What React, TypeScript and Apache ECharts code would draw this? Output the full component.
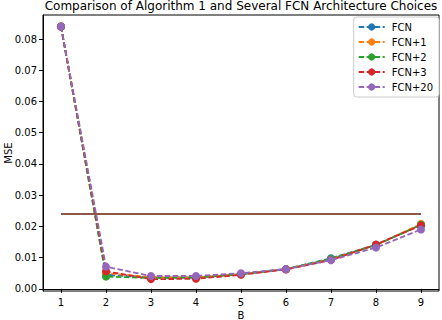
import React, { useEffect, useRef } from "react";
import * as echarts from "echarts";

const B = [1, 2, 3, 4, 5, 6, 7, 8, 9];
const seriesNames = ["FCN", "FCN+1", "FCN+2", "FCN+3", "FCN+20"];
const fcn = [0.084, 0.0045, 0.0036, 0.0036, 0.0047, 0.0063, 0.0098, 0.0141, 0.0205];
const fcn1 = [0.084, 0.005, 0.0038, 0.0037, 0.0047, 0.0063, 0.0095, 0.014, 0.0208];
const fcn2 = [0.084, 0.0039, 0.0035, 0.0036, 0.0047, 0.0063, 0.0096, 0.014, 0.0205];
const fcn3 = [0.084, 0.0056, 0.0031, 0.0032, 0.0045, 0.0062, 0.0092, 0.0142, 0.0203];
const fcn20 = [0.084, 0.0071, 0.0041, 0.0041, 0.005, 0.0063, 0.0092, 0.0132, 0.019];
const algorithm1 = 0.024;
const yTicks = [0, 0.01, 0.02, 0.03, 0.04, 0.05, 0.06, 0.07, 0.08];
const colors = ["#1f77b4", "#ff7f0e", "#2ca02c", "#d62728", "#9467bd", "#8c564b"];

export default function App() {
  const ref = useRef<HTMLDivElement>(null);
  useEffect(() => {
    const chart = echarts.init(ref.current!, undefined, { renderer: "svg" });
    const all = [fcn, fcn1, fcn2, fcn3, fcn20];
    const font = "DejaVu Sans";
    const series: any[] = all.map((vals, i) => ({
      name: seriesNames[i],
      type: "line",
      data: B.map((b, j) => [b, vals[j]]),
      symbol: "circle",
      symbolSize: 8,
      lineStyle: { type: [5.5, 2.5], width: 1.8, color: colors[i] },
      itemStyle: { color: colors[i] },
      z: 2 + i,
    }));
    series.push({
      name: "Algorithm 1",
      type: "line",
      data: [[B[0], algorithm1], [B[B.length - 1], algorithm1]],
      symbol: "none",
      lineStyle: { width: 2, color: colors[5] },
      itemStyle: { color: colors[5] },
      z: 8,
    });
    chart.setOption({
      animation: false,
      textStyle: { fontFamily: font },
      title: {
        text: "Comparison of Algorithm 1 and Several FCN Architecture Choices",
        left: 241,
        textAlign: "center",
        top: 0,
        padding: 0,
        textStyle: { fontFamily: font, fontSize: 12, fontWeight: "normal", color: "#000" },
      },
      grid: {
        left: 43,
        right: 3,
        top: 15,
        bottom: 29,
        outerBoundsMode: "none",
        containLabel: false,
        show: true,
        borderColor: "#000",
        borderWidth: 1,
        backgroundColor: "#fff",
      },
      legend: {
        data: seriesNames,
        orient: "vertical",
        right: 3,
        top: 17,
        padding: [5, 6, 5, 4],
        itemGap: 5,
        itemWidth: 26,
        itemHeight: 9,
        borderColor: "#ccc",
        borderWidth: 1,
        borderRadius: 3,
        backgroundColor: "#fff",
        textStyle: { fontFamily: font, fontSize: 10, color: "#000", padding: [0, 0, 0, 2] },
      },
      xAxis: {
        type: "value",
        min: 0.6,
        max: 9.4,
        name: "B",
        nameLocation: "middle",
        nameGap: 19,
        nameMoveOverlap: false,
        nameTextStyle: { fontFamily: font, fontSize: 10, color: "#000" },
        axisLine: { show: true, lineStyle: { color: "#000" } },
        axisTick: { show: true, inside: false, length: 4, lineStyle: { color: "#000" }, customValues: B },
        axisLabel: { fontFamily: font, fontSize: 10, color: "#000", margin: 6, customValues: B, formatter: (v: number) => String(v) },
        splitLine: { show: false },
      },
      yAxis: {
        type: "value",
        min: -0.0007,
        max: 0.0877,
        name: "MSE",
        nameLocation: "middle",
        nameRotate: 90,
        nameGap: 30,
        nameMoveOverlap: false,
        nameTextStyle: { fontFamily: font, fontSize: 10, color: "#000" },
        axisLine: { show: true, lineStyle: { color: "#000" } },
        axisTick: { show: true, inside: false, length: 4, lineStyle: { color: "#000" }, customValues: yTicks },
        axisLabel: { fontFamily: font, fontSize: 10, color: "#000", margin: 6, customValues: yTicks, formatter: (v: number) => v.toFixed(2) },
        splitLine: { show: false },
      },
      series,
    });
    return () => chart.dispose();
  }, []);
  return <div ref={ref} style={{ position: "absolute", left: 0, top: 0, width: 442, height: 320 }} />;
}
